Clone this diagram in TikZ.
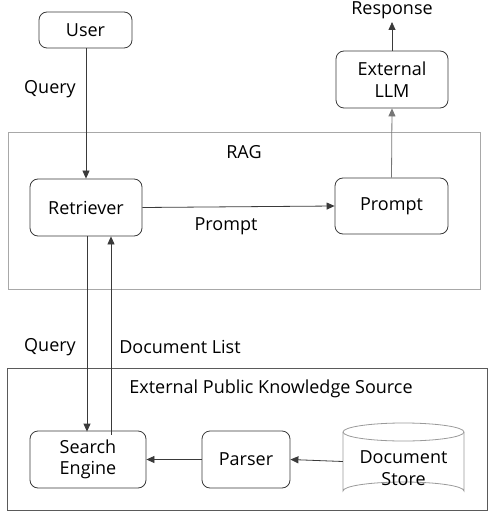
\documentclass[tikz,border=0pt]{standalone}
\usepackage{fontspec}
\setmainfont{Open Sans}
\usetikzlibrary{arrows.meta}
\definecolor{boxline}{HTML}{3A3A3A}
\definecolor{ragline}{HTML}{A8A8A8}
\definecolor{extline}{HTML}{5A5A5A}
\definecolor{cylline}{HTML}{9A9A9A}
\definecolor{arrline}{HTML}{3A3A3A}
\begin{document}
\begin{tikzpicture}[x=1bp,y=-1bp,
  txt/.style={font=\fontsize{18bp}{21bp}\selectfont, text=black, inner sep=0pt},
  rbox/.style={draw=boxline, line width=0.8bp, rounded corners=8bp, inner sep=0pt, align=center, font=\fontsize{18bp}{21.5bp}\selectfont},
  arr/.style={draw=arrline, line width=0.8bp, -{Triangle[length=8bp,width=7bp]}},
  frame/.style={line width=1bp}
]
\useasboundingbox (0,0) rectangle (497,518);
% frames
\draw[frame, draw=ragline] (8,133) rectangle (480,289);
\draw[frame, draw=extline] (7,368) rectangle (487,510);
\node[txt] (raglbl) at (244,152) {RAG};
\node[txt] (extlbl) at (271,389) {External Public Knowledge Source};
% boxes
\node[rbox, minimum width=93bp, minimum height=36bp] (user) at (85.5,30) {User};
\node[rbox, minimum width=112bp, minimum height=57bp] (llm) at (392,79.5) {External\\LLM};
\node[rbox, minimum width=112bp, minimum height=57bp] (retr) at (86,207.5) {Retriever};
\node[rbox, minimum width=113bp, minimum height=56bp] (prompt) at (391.5,206) {Prompt};
\node[rbox, minimum width=116bp, minimum height=57bp] (se) at (88,459.5) {Search\\Engine};
\node[rbox, minimum width=88bp, minimum height=57bp] (parser) at (246,459.5) {Parser};
% cylinder
\draw[draw=cylline, line width=0.8bp] (343,432) -- (343,491) arc[start angle=180, end angle=360, x radius=60.5, y radius=9] -- (464,432);
\draw[draw=cylline, line width=0.8bp] (403.5,432) ellipse[x radius=60.5, y radius=9];
\node[inner sep=0pt, minimum width=121bp, minimum height=77bp] (ds) at (403.5,461.5) {};
\node[rbox, draw=none] (dstxt) at (403.5,468) {Document\\Store};
% response
\node[txt] (resp) at (392,10) {Response};
\coordinate (respb) at (392,22);
% labels
\node[txt] (q1) at (50,89) {Query};
\node[txt] (pl) at (226,226) {Prompt};
\node[txt] (q2) at (50,347) {Query};
\node[txt] (dl) at (180,347) {Document List};
% arrows
\draw[arr] (user.south -| 86,0) -- (retr.north -| 86,0);
\draw[arr] (retr.east) -- (prompt.west);
\draw[arr, draw=ragline!70!black] (prompt.north) -- (llm.south);
\draw[arr] (llm.north) -- (respb);
\draw[arr] (retr.south -| 87,0) -- ([yshift=-1bp]se.north -| 87,0);
\draw[arr] ([yshift=-4bp]se.north -| 111,0) -- (retr.south -| 111,0);
\draw[arr] (parser.west) -- (se.east);
\draw[arr] (ds.west) -- (parser.east);
\end{tikzpicture}
\end{document}
